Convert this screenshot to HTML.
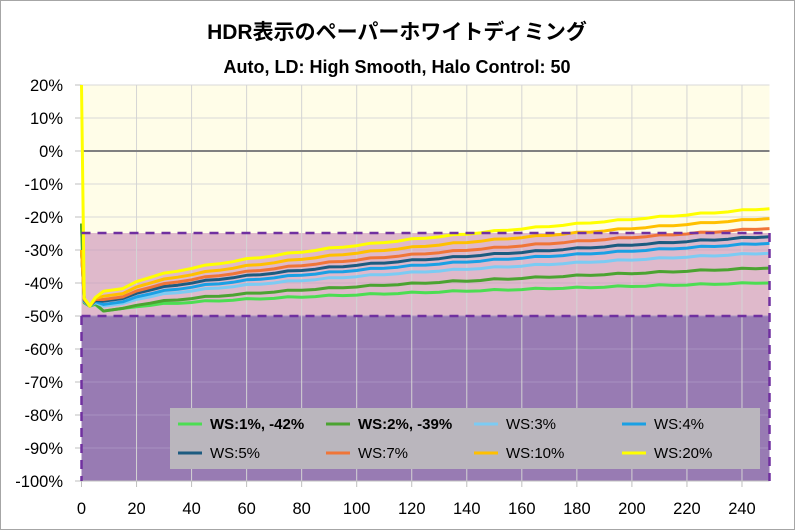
<!DOCTYPE html>
<html><head><meta charset="utf-8"><style>
html,body{margin:0;padding:0;background:#fff;}
svg{display:block;font-family:"Liberation Sans","Noto Sans CJK JP",sans-serif;}
</style></head><body>
<svg id="s" width="795" height="530" viewBox="0 0 795 530" xmlns="http://www.w3.org/2000/svg">
<rect x="0.5" y="0.5" width="794" height="529" fill="#fff" stroke="#a6a6a6"/>
<text x="397" y="39" text-anchor="middle" font-size="21" font-weight="bold" fill="#000">HDR表示のペーパーホワイトディミング</text>
<text x="397" y="73" text-anchor="middle" font-size="18" font-weight="bold" fill="#000">Auto, LD: High Smooth, Halo Control: 50</text>
<rect x="81.5" y="85" width="688" height="148" fill="#fffde8"/>
<rect x="81.5" y="233" width="688" height="83" fill="#dfb9cb"/>
<rect x="81.5" y="316" width="688" height="165" fill="#987bb3"/>
<g id="grid"></g>
<line x1="81.5" y1="151" x2="769.5" y2="151" stroke="#808080" stroke-width="2"/>
<g id="series" fill="none" stroke-width="3" stroke-linejoin="round"></g>
<g stroke="#7030a0" stroke-width="2.5" stroke-dasharray="9,7" fill="none">
<line x1="81.5" y1="233" x2="769.5" y2="233"/>
<line x1="81.5" y1="316" x2="769.5" y2="316"/>
<line x1="81.5" y1="316" x2="81.5" y2="481"/>
<line x1="769.5" y1="233" x2="769.5" y2="481"/>
</g>
<g id="labels" font-size="16.5" fill="#000"></g>
<rect x="170" y="408" width="590" height="61" fill="#bab6bd"/>
<g font-size="15" fill="#000">
<line x1="178" y1="424" x2="202" y2="424" stroke="#4cdd52" stroke-width="3"/><text x="210" y="429" font-weight="bold">WS:1%, -42%</text>
<line x1="326" y1="424" x2="350" y2="424" stroke="#4ba331" stroke-width="3"/><text x="358" y="429" font-weight="bold">WS:2%, -39%</text>
<line x1="474" y1="424" x2="498" y2="424" stroke="#7ccbf3" stroke-width="3"/><text x="506" y="429">WS:3%</text>
<line x1="622" y1="424" x2="646" y2="424" stroke="#1aa0e4" stroke-width="3"/><text x="654" y="429">WS:4%</text>
<line x1="178" y1="453" x2="202" y2="453" stroke="#1c5b80" stroke-width="3"/><text x="210" y="458">WS:5%</text>
<line x1="326" y1="453" x2="350" y2="453" stroke="#f07538" stroke-width="3"/><text x="358" y="458">WS:7%</text>
<line x1="474" y1="453" x2="498" y2="453" stroke="#ffc000" stroke-width="3"/><text x="506" y="458">WS:10%</text>
<line x1="622" y1="453" x2="646" y2="453" stroke="#ffff00" stroke-width="3"/><text x="654" y="458">WS:20%</text>
</g>
</svg>
<script>
var NS="http://www.w3.org/2000/svg";
function X(v){return 81.5+v*2.752;}
function Y(p){return 151-p*3.3;}
function el(t,a,p){var e=document.createElementNS(NS,t);for(var k in a)e.setAttribute(k,a[k]);p.appendChild(e);return e;}
var g=document.getElementById('grid'),L=document.getElementById('labels');
for(var p=20;p>=-100;p-=10){var y=Y(p);
 if(p!==0)el('line',{x1:81.5,x2:769.5,y1:y,y2:y,stroke:p<=-50?'#a891c0':(p<-25?'#cfb0c4':'#d9d9d9'),'stroke-width':1},g);
 el('line',{x1:75,x2:81.5,y1:y,y2:y,stroke:'#bfbfbf'},g);
 var t=el('text',{x:63,y:y+6,'text-anchor':'end'},L);t.textContent=p+'%';}
for(var v=0;v<=240;v+=20){var x=X(v);
 el('line',{x1:x,x2:x,y1:85,y2:481,stroke:'#d4d4d4','stroke-width':1,opacity:v?1:0},g);
 el('line',{x1:x,x2:x,y1:481,y2:487,stroke:'#bfbfbf'},g);
 var t=el('text',{x:x,y:514,'text-anchor':'middle'},L);t.textContent=v;}
el('line',{x1:81.5,x2:769.5,y1:481,y2:481,stroke:'#bfbfbf'},g);
var S=[["#4cdd52",-22,-48,-40],["#4ba331",-22,-48,-35.5],["#7ccbf3",-30,-46.5,-31],["#1aa0e4",-30,-46,-28],
["#1c5b80",-30,-45,-26],["#f07538",-30,-44.5,-23.5],["#ffc000",-30,-43.5,-20.5],["#ffff00",20,-42,-17.5]];
var ser=document.getElementById('series');
S.forEach(function(s,i){var d="M"+X(0)+","+Y(s[1])+" L"+X(1)+","+Y(-46+i*0.2)+" L"+X(3)+","+Y(-47)+" L"+X(5)+","+Y(-46.5+i*0.3)+" L"+X(8)+","+Y(s[2]-0.5);
 for(var x=15;x<=250;x+=5){var t=(x-15)/235,v=s[2]+(s[3]-s[2])*Math.pow(t,0.6);v+=Math.round(x/5)%3===0?0.3:0;d+=" L"+X(x).toFixed(1)+","+Y(v).toFixed(1);}
 el('path',{d:d,stroke:s[0]},ser);});
</script>
</body></html>
